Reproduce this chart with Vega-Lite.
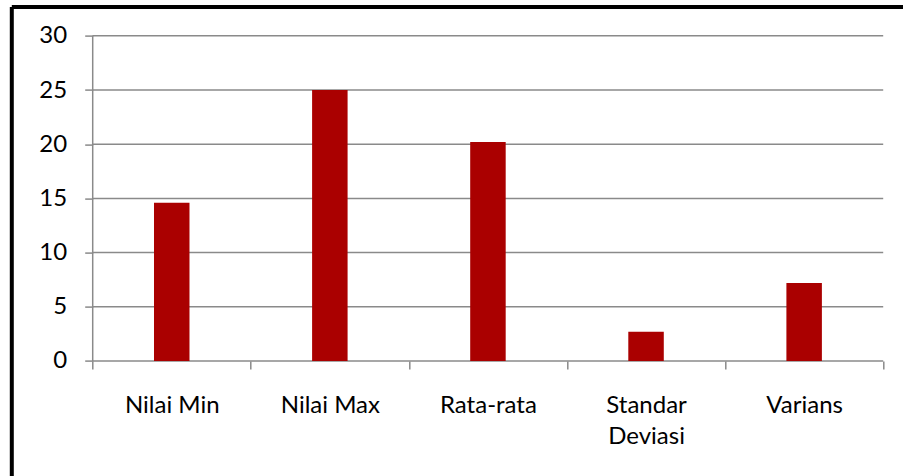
{
  "$schema": "https://vega.github.io/schema/vega-lite/v6.json",
  "width": 891.7,
  "height": 469.4,
  "autosize": {"type": "none"},
  "padding": {"left": 11.3, "top": 6.6, "right": 0, "bottom": 0},
  "background": "white",
  "config": {"view": {"stroke": null}, "font": "Lato"},
  "resolve": {
    "scale": {"x": "independent", "y": "independent"},
    "axis": {"x": "independent", "y": "independent"}
  },
  "layer": [
    {
      "data": {"values": [{"garis": 0}, {"garis": 5}, {"garis": 10}, {"garis": 15}, {"garis": 20}, {"garis": 25}, {"garis": 30}]},
      "mark": {"type": "rule", "color": "#8a8a8a", "strokeWidth": 1.5},
      "encoding": {
        "x": {
          "datum": 0, "type": "quantitative",
          "scale": {"domain": [-0.5149, 5.1252], "nice": false, "zero": false},
          "axis": {"orient": "top", "domain": true, "domainColor": "black", "domainWidth": 4, "ticks": false, "labels": false, "grid": false, "title": null}
        },
        "x2": {"datum": 5},
        "y": {
          "field": "garis", "type": "quantitative",
          "scale": {"domain": [-10.609, 32.694], "nice": false, "zero": false},
          "axis": {"orient": "left", "domain": true, "domainColor": "black", "domainWidth": 4, "ticks": false, "labels": false, "grid": false, "title": null}
        }
      }
    },
    {
      "data": {"values": [{}]},
      "mark": {"type": "rule", "color": "#8a8a8a", "strokeWidth": 1.5},
      "encoding": {
        "x": {"datum": 0, "type": "quantitative", "scale": {"domain": [-0.5149, 5.1252], "nice": false, "zero": false}, "axis": null},
        "y": {"datum": 0, "type": "quantitative", "scale": {"domain": [-10.609, 32.694], "nice": false, "zero": false}, "axis": null},
        "y2": {"datum": 30}
      }
    },
    {
      "data": {
        "values": [
          {"kategori": "Nilai Min", "nilai": 14.6},
          {"kategori": "Nilai Max", "nilai": 25},
          {"kategori": "Rata-rata", "nilai": 20.2},
          {"kategori": "Standar Deviasi", "nilai": 2.7},
          {"kategori": "Varians", "nilai": 7.2}
        ]
      },
      "mark": {"type": "bar", "color": "#aa0000", "width": {"band": 0.2245}},
      "encoding": {
        "x": {
          "field": "kategori", "type": "nominal", "sort": null,
          "scale": {"paddingInner": 0, "paddingOuter": 0.32005, "align": 0.8043, "round": false},
          "axis": {
            "orient": "bottom", "offset": -115, "domain": false, "grid": false,
            "tickBand": "extent", "tickColor": "#8a8a8a", "tickWidth": 1.5, "tickSize": 8,
            "labelAngle": 0, "labelFontSize": 24, "labelColor": "black", "labelPadding": 24,
            "labelLineHeight": 31,
            "labelExpr": "datum.label == 'Standar Deviasi' ? ['Standar', 'Deviasi'] : datum.label",
            "title": null
          }
        },
        "y": {
          "field": "nilai", "type": "quantitative",
          "scale": {"domain": [-10.609, 32.694], "nice": false, "zero": false},
          "axis": {
            "orient": "left", "offset": -81.4, "domain": false, "grid": false,
            "values": [0, 5, 10, 15, 20, 25, 30],
            "tickColor": "#8a8a8a", "tickWidth": 1.5, "tickSize": 8,
            "labelFontSize": 24, "labelColor": "black", "labelPadding": 18,
            "title": null
          }
        }
      }
    }
  ]
}
